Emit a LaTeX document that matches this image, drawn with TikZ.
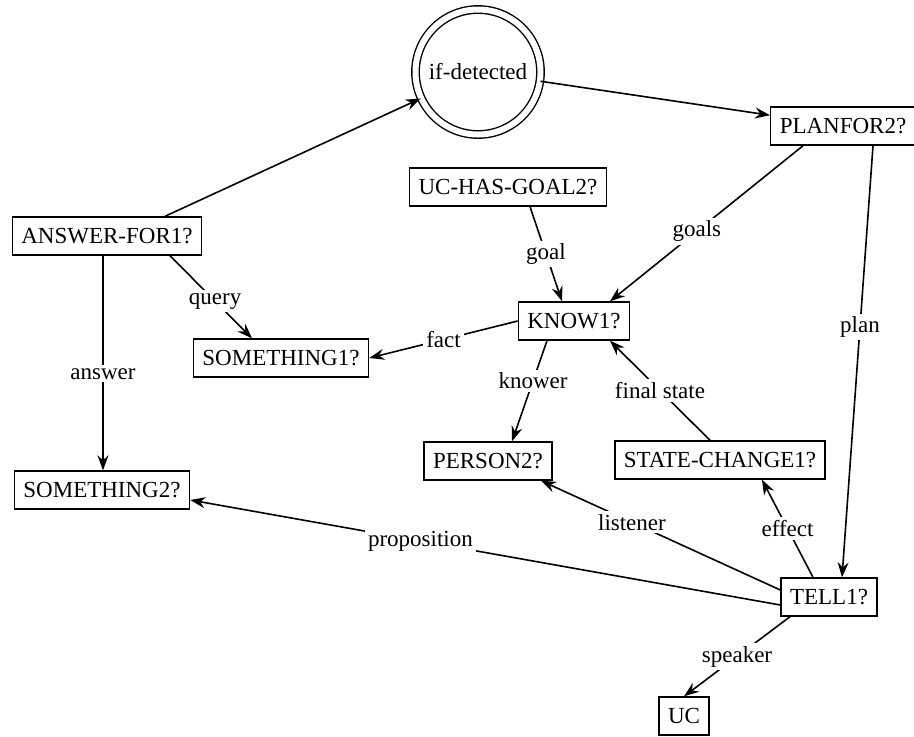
\documentclass[tikz,border=0pt]{standalone}
\usepackage{fontspec}
\setmainfont{Liberation Serif}
\usetikzlibrary{arrows.meta}

\tikzset{
  box/.style={draw,rectangle,line width=0.7pt,inner xsep=4.5pt,minimum height=19pt},
  lbl/.style={fill=white,inner sep=1.5pt},
  link/.style={-{Stealth[length=7.5pt,width=5.5pt,inset=2.5pt]},line width=0.8pt}
}

\begin{document}
\begin{tikzpicture}
  [x=0.5pt,y=-0.5pt,every node/.style={font=\fontsize{11.5}{13}\selectfont}]
  \useasboundingbox (0,0) rectangle (914,736);

  \node[circle,draw,double,double distance=3pt,line width=0.7pt,minimum size=62.5pt] (ifdet) at (478,72) {if-detected};
  \node[box] (planfor) at (843,126) {PLANFOR2?};
  \node[box] (ucgoal) at (508,187) {UC-HAS-GOAL2?};
  \node[box] (answer) at (107,236) {ANSWER-FOR1?};
  \node[box] (know) at (574,321) {KNOW1?};
  \node[box] (sth1) at (281,358) {SOMETHING1?};
  \node[box] (person) at (488,461) {PERSON2?};
  \node[box] (statechg) at (720,460) {STATE-CHANGE1?};
  \node[box] (sth2) at (102,490) {SOMETHING2?};
  \node[box] (tell) at (829,597) {TELL1?};
  \node[box] (uc) at (684,716) {UC};

  \draw[link] ([xshift=29pt]answer.north) -- (ifdet);
  \draw[link] (ifdet) -- (planfor);
  \draw[link] ([xshift=11pt]ucgoal.south) -- node[lbl] {goal} ([xshift=-6pt]know.north);
  \draw[link] ([xshift=-20pt]planfor.south) -- node[lbl,pos=0.55] {goals} ([xshift=18pt]know.north);
  \draw[link] ([xshift=15pt]planfor.south) -- node[lbl,pos=0.42] {plan} ([xshift=6.5pt]tell.north);
  \draw[link] ([xshift=31.5pt]answer.south) -- node[lbl,pos=0.55] {query} ([xshift=-14.5pt]sth1.north);
  \draw[link] ([xshift=-2pt]answer.south) -- node[lbl,pos=0.55] {answer} ([xshift=0.5pt]sth2.north);
  \draw[link] (know.west) -- node[lbl] {fact} (sth1.east);
  \draw[link] ([xshift=-13.5pt]know.south) -- node[lbl,pos=0.4] {knower} ([xshift=12pt]person.north);
  \draw[link] ([xshift=-5pt]statechg.north) -- node[lbl] {final state} ([xshift=18pt]know.south);
  \draw[link] ([xshift=-8pt]tell.north) -- node[lbl] {effect} ([xshift=21pt]statechg.south);
  \draw[link] ([yshift=3.5pt]tell.west) -- node[lbl,pos=0.62] {listener} ([xshift=26.5pt]person.south);
  \draw[link] ([yshift=-4pt]tell.west) -- node[lbl,pos=0.61] {proposition} ([yshift=-5pt]sth2.east);
  \draw[link] ([xshift=-19.5pt]tell.south) -- node[lbl] {speaker} (uc.north);

\end{tikzpicture}
\end{document}
